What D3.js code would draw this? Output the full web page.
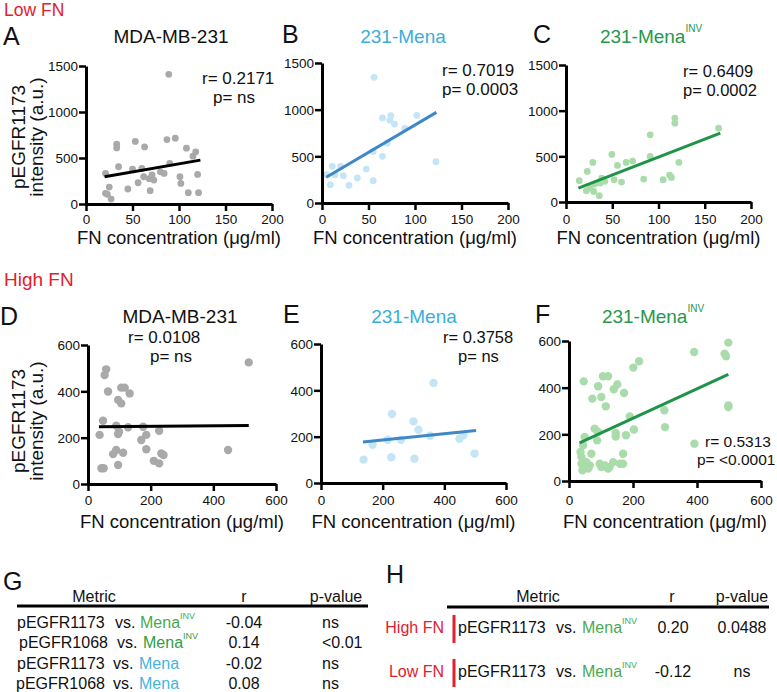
<!DOCTYPE html>
<html><head><meta charset="utf-8">
<script src="https://cdn.jsdelivr.net/npm/d3@7"></script>
<style>body{margin:0;background:#fff}text{font-family:"Liberation Sans",Arial,Helvetica,sans-serif;fill:#111}</style>
</head><body><svg id="c" width="777" height="692"></svg>
<script>
// ---------- DATA ----------
const xTicksLow = [0, 50, 100, 150, 200];
const yTicksLow = [0, 500, 1000, 1500];
const xTicksHigh = [0, 200, 400, 600];
const yTicksHigh = [0, 200, 400, 600];

const fnA = [89,33,33,53,63,87,96,108,118,115,35,50,60,21,80,84,90,101,102,120,56,68,73,62,71,45,69,25,21,23,27,110,121];
const pA  = [1410,650,610,680,620,700,715,607,567,520,405,380,387,332,350,332,440,296,224,322,231,275,260,296,315,163,145,184,116,105,54,123,123];
const fitA = [[20,296],[123,477]];

const fnB = [56,65,74,73,78,102,89,70,65,55,47.5,38,29,55,23,11,20,14,9,5,122.5];
const pB  = [1346,911,936,886,846,939,800,643,500,553,364,268,189,239,293,393,393,304,196,304,443];
const fitB = [[4.6,275],[123,971]];

const fnC = [117.7,117.7,165,91,49.5,29,23,14.4,38.6,42,37,31,26,30,36,22,55.6,65,72,52,60,91,84,105,112,114,122];
const pC  = [917,863,808,735,521,433,335,233,262,226,207,197,153,116,69,124,400,433,448,244,218,499,251,244,295,269,433];
const fitC = [[13.4,153],[166.8,754]];

const fnD = [513,447,58,53,64,96,106,106,117,133,48,37,90,99,96,128,176,170,186,186,227,90,80,112,210,227,234,241,96,43,50];
const pD  = [525,147,495,470,399,363,348,416,416,391,273,212,252,226,216,245,247,190,212,150,230,147,129,135,100,89,132,125,82,68,68];
const fitD = [[35,247],[513,252]];

const fnE = [365,230,300,316,354,216,259,167,449,462,138,228,303,498];
const pE  = [432,298,266,230,204,187,187,165,191,206,101,111,105,127];
const fitE = [[136,177],[503,227]];

const fnF = [498,391,486,491,219,201,46,106,122,91,101,73,115,151,140,172,190,203,298,300,498,498,392,146,146,178,80,91,88,49,44,70,36,169,39,49,60,65,54,42,96,112,127,138,122,159,169,101,39];
const pF  = [593,553,546,534,513,486,427,449,449,406,360,353,320,414,393,377,277,221,303,231,324,317,160,206,191,196,224,210,174,189,153,117,124,117,74,60,53,67,81,46,74,67,60,81,53,74,74,60,103];
const fitF = [[33,163],[498,457]];

const statR = ["r= 0.2171","r= 0.7019","r= 0.6409","r= 0.0108","r= 0.3758","r= 0.5313"];
const statP = ["p= ns","p= 0.0003","p= 0.0002","p= ns","p= ns","p= <0.0001"];

const gMetric = ["pEGFR1173","pEGFR1068","pEGFR1173","pEGFR1068"];
const gTarget = ["Mena","Mena","Mena","Mena"];
const gSup    = ["INV","INV","",""];
const gR      = ["-0.04","0.14","-0.02","0.08"];
const gP      = ["ns","<0.01","ns","ns"];

const hGroup  = ["High FN","Low FN"];
const hMetric = ["pEGFR1173","pEGFR1173"];
const hR      = ["0.20","-0.12"];
const hP      = ["0.0488","ns"];

// ---------- STYLE / LAYOUT ----------
const RED = "#e2202c", GREEN_T = "#27984a", BLUE_T = "#3aaed8";
const svg = d3.select("#c");

const panels = [
 {L:"A", x:fnA, y:pA, fit:fitA, xd:[0,200], yd:[0,1500], xt:xTicksLow, yt:yTicksLow,
  px:[86,272], py:[204,66], dot:"#a9a9a9", line:"#000", r:3.4,
  title:"MDA-MB-231", tc:"#111", sup:"", tx:171, ty:43, lx:3, ly:45,
  sfs:17, sr:[202,84], sp:[213,103], xlab:224, xtitle:244, ytitle:137},
 {L:"B", x:fnB, y:pB, fit:fitB, xd:[0,200], yd:[0,1500], xt:xTicksLow, yt:yTicksLow,
  px:[322,508], py:[203,63], dot:"#c4e5f5", line:"#3f88c8", r:3.4,
  title:"231-Mena", tc:BLUE_T, sup:"", tx:403, ty:43, lx:282, ly:43,
  sfs:17, sr:[442,76], sp:[442,95], xlab:224, xtitle:244},
 {L:"C", x:fnC, y:pC, fit:fitC, xd:[0,200], yd:[0,1500], xt:xTicksLow, yt:yTicksLow,
  px:[566,751], py:[202,65], dot:"#aadcab", line:"#1f9447", r:3.4,
  title:"231-Mena", tc:GREEN_T, sup:"INV", tx:651, ty:43, lx:533, ly:43,
  sfs:16.5, sr:[683,77], sp:[683,96], xlab:224, xtitle:244},
 {L:"D", x:fnD, y:pD, fit:fitD, xd:[0,600], yd:[0,600], xt:xTicksHigh, yt:yTicksHigh,
  px:[88,276], py:[484,345], dot:"#a9a9a9", line:"#000", r:4.2,
  title:"MDA-MB-231", tc:"#111", sup:"", tx:180, ty:323, lx:0, ly:325,
  sfs:17, sr:[128,343], sp:[150,362], xlab:505, xtitle:528, ytitle:421},
 {L:"E", x:fnE, y:pE, fit:fitE, xd:[0,600], yd:[0,600], xt:xTicksHigh, yt:yTicksHigh,
  px:[321,506], py:[483,344], dot:"#c4e5f5", line:"#3f88c8", r:4.2,
  title:"231-Mena", tc:BLUE_T, sup:"", tx:414, ty:323, lx:283, ly:323,
  sfs:16.5, sr:[443,343], sp:[458,362], xlab:505, xtitle:528},
 {L:"F", x:fnF, y:pF, fit:fitF, xd:[0,600], yd:[0,600], xt:xTicksHigh, yt:yTicksHigh,
  px:[569,761], py:[481,341], dot:"#aadcab", line:"#1f9447", r:4.2,
  title:"231-Mena", tc:GREEN_T, sup:"INV", tx:653, ty:323, lx:535, ly:323,
  sfs:15.5, sr:[705,447], sp:[697,465], xlab:505, xtitle:528}
];

svg.append("text").attr("x",4).attr("y",16).attr("font-size",17.5).style("fill",RED).text("Low FN");
svg.append("text").attr("x",4).attr("y",286).attr("font-size",19).style("fill",RED).text("High FN");

panels.forEach((p,i)=>{
  const xs = d3.scaleLinear().domain(p.xd).range(p.px);
  const ys = d3.scaleLinear().domain(p.yd).range(p.py);
  const g = svg.append("g");
  g.append("text").attr("x",p.lx).attr("y",p.ly).attr("font-size",25).text(p.L);
  const t = g.append("text").attr("x",p.tx).attr("y",p.ty).attr("font-size",19)
     .attr("text-anchor","middle").style("fill",p.tc);
  t.append("tspan").text(p.title);
  if (p.sup) t.append("tspan").attr("font-size",10).attr("dy",-11).text(p.sup);
  g.selectAll("circle.d").data(p.x.map((v,k)=>[v,p.y[k]])).join("circle")
    .attr("cx",d=>xs(d[0])).attr("cy",d=>ys(d[1])).attr("r",p.r).attr("fill",p.dot);
  g.append("path").attr("d",d3.line().x(d=>xs(d[0])).y(d=>ys(d[1]))(p.fit))
    .attr("stroke",p.line).attr("stroke-width",3).attr("fill","none");
  const ax = g.append("g").attr("transform",`translate(0,${p.py[0]})`)
    .call(d3.axisBottom(xs).tickValues(p.xt).tickSize(7).tickSizeOuter(0).tickPadding(3).tickFormat(d3.format("d")));
  const ay = g.append("g").attr("transform",`translate(${p.px[0]},0)`)
    .call(d3.axisLeft(ys).tickValues(p.yt).tickSize(7).tickSizeOuter(0).tickPadding(1).tickFormat(d3.format("d")));
  [ax,ay].forEach(a=>{
    a.select(".domain").attr("stroke","#000").attr("stroke-width",3);
    a.selectAll(".tick line").attr("stroke","#000").attr("stroke-width",2.5);
    a.selectAll(".tick text").attr("font-size",13.5).style("font-family",'"Liberation Sans",Arial,sans-serif').style("fill","#111");
  });
  ax.selectAll(".tick text").attr("dy",null).attr("y",p.xlab-p.py[0]);
  ay.selectAll(".tick text").attr("dy","0.36em");
  g.append("text").attr("x",(p.px[0]+p.px[1])/2).attr("y",p.xtitle).attr("font-size",18.5)
    .attr("text-anchor","middle").text("FN concentration (\u03BCg/ml)");
  if (p.ytitle) {
    g.append("text").attr("transform",`translate(25,${p.ytitle}) rotate(-90)`).attr("font-size",19)
      .attr("text-anchor","middle").text("pEGFR1173");
    g.append("text").attr("transform",`translate(43,${p.ytitle}) rotate(-90)`).attr("font-size",19)
      .attr("text-anchor","middle").text("intensity (a.u.)");
  }
  g.append("text").attr("x",p.sr[0]).attr("y",p.sr[1]).attr("font-size",p.sfs).text(statR[i]);
  g.append("text").attr("x",p.sp[0]).attr("y",p.sp[1]).attr("font-size",p.sfs).text(statP[i]);
});

// ---------- TABLE G ----------
const G = svg.append("g");
G.append("text").attr("x",3).attr("y",590).attr("font-size",25).text("G");
G.append("text").attr("x",94).attr("y",602).attr("font-size",16).attr("text-anchor","middle").text("Metric");
G.append("text").attr("x",244).attr("y",602).attr("font-size",16).attr("text-anchor","middle").text("r");
G.append("text").attr("x",336).attr("y",602).attr("font-size",16).attr("text-anchor","middle").text("p-value");
G.append("line").attr("x1",17).attr("x2",368).attr("y1",606).attr("y2",606).attr("stroke","#000").attr("stroke-width",3);
const gRowY = [628,648,669,689];
const gX0 = [17,19,17,16], gVs=[115,117,113,113], gMena=[140,143,139,139];
const gCol = ["#4aaa50","#2f9e46","#45b5e0","#45b5e0"];
gMetric.forEach((m,k)=>{
  const y = gRowY[k];
  G.append("text").attr("x",gX0[k]).attr("y",y).attr("font-size",16).text(m);
  G.append("text").attr("x",gVs[k]).attr("y",y).attr("font-size",16).text("vs.");
  const t = G.append("text").attr("x",gMena[k]).attr("y",y).attr("font-size",16);
  t.append("tspan").style("fill",gCol[k]).text(gTarget[k]);
  if (gSup[k]) t.append("tspan").style("fill",gCol[k]).attr("font-size",9).attr("dy",-9).text(gSup[k]);
  G.append("text").attr("x",244).attr("y",y).attr("font-size",16).attr("text-anchor","middle").text(gR[k]);
  G.append("text").attr("x",322).attr("y",y).attr("font-size",16).text(gP[k]);
});

// ---------- TABLE H ----------
const H = svg.append("g");
H.append("text").attr("x",386).attr("y",583).attr("font-size",25).text("H");
H.append("text").attr("x",538).attr("y",602).attr("font-size",16).attr("text-anchor","middle").text("Metric");
H.append("text").attr("x",672).attr("y",602).attr("font-size",16).attr("text-anchor","middle").text("r");
H.append("text").attr("x",742).attr("y",602).attr("font-size",16).attr("text-anchor","middle").text("p-value");
H.append("line").attr("x1",447).attr("x2",769).attr("y1",607).attr("y2",607).attr("stroke","#000").attr("stroke-width",3);
const hRowY = [633,677];
hGroup.forEach((gname,k)=>{
  const y = hRowY[k];
  H.append("text").attr("x",444).attr("y",y).attr("font-size",16).attr("text-anchor","end").style("fill",RED).text(gname);
  H.append("rect").attr("x",452.5).attr("y",y-18).attr("width",3).attr("height",28).attr("fill",RED);
  H.append("text").attr("x",458).attr("y",y).attr("font-size",16).text(hMetric[k]);
  H.append("text").attr("x",556).attr("y",y).attr("font-size",16).text("vs.");
  const t = H.append("text").attr("x",582).attr("y",y).attr("font-size",16);
  t.append("tspan").style("fill","#4aaa50").text("Mena");
  t.append("tspan").style("fill","#4aaa50").attr("font-size",9).attr("dy",-9).text("INV");
  H.append("text").attr("x",673).attr("y",y).attr("font-size",16).attr("text-anchor","middle").text(hR[k]);
  H.append("text").attr("x",742).attr("y",y).attr("font-size",16).attr("text-anchor","middle").text(hP[k]);
});
</script></body></html>
